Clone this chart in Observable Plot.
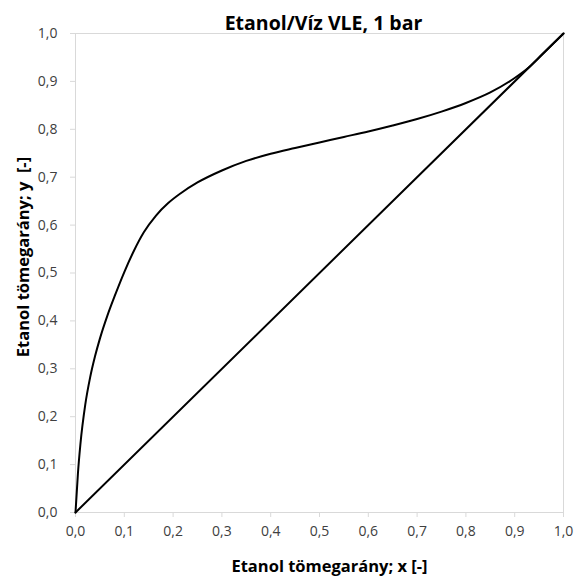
<!DOCTYPE html>
<html>
<head>
<meta charset="utf-8">
<script src="https://cdn.jsdelivr.net/npm/d3@7"></script>
<script src="https://cdn.jsdelivr.net/npm/@observablehq/plot@0.6"></script>
<style>
  html, body { margin: 0; padding: 0; background: #fff; }
</style>
</head>
<body>
<div id="chart"></div>
<script>
// Equilibrium curve (ethanol mass fraction, liquid x vs vapour y)
const xLiquid = [0, 0.005, 0.01, 0.02, 0.03, 0.04, 0.05, 0.065, 0.08, 0.1, 0.12, 0.14, 0.165, 0.19, 0.215, 0.25, 0.3, 0.35, 0.4, 0.45, 0.5, 0.55, 0.6, 0.65, 0.7, 0.75, 0.8, 0.85, 0.9, 0.93, 0.956, 1.0];
const yVapor  = [0, 0.082, 0.142, 0.225, 0.282, 0.326, 0.363, 0.410, 0.451, 0.502, 0.547, 0.585, 0.620, 0.646, 0.666, 0.689, 0.714, 0.734, 0.749, 0.761, 0.7725, 0.7840, 0.7955, 0.808, 0.8215, 0.837, 0.855, 0.877, 0.907, 0.930, 0.956, 1.0];
// Diagonal y = x
const diagX = [0, 1];
const diagY = [0, 1];
const tickValues = [0, 0.1, 0.2, 0.3, 0.4, 0.5, 0.6, 0.7, 0.8, 0.9, 1.0];

const titleText = "Etanol/Víz VLE, 1 bar";
const xLabelText = "Etanol tömegarány; x [-]";
const yLabelText = "Etanol tömegarány; y  [-]";

const curve = xLiquid.map((x, i) => ({x, y: yVapor[i]}));
const diag = diagX.map((x, i) => ({x, y: diagY[i]}));
const fmt = d => d.toFixed(1).replace(".", ",");
const font = "'Open Sans', Lato, sans-serif";

const chart = Plot.plot({
  width: 578,
  height: 577,
  marginLeft: 75,
  marginRight: 15,
  marginTop: 33,
  marginBottom: 65,
  style: {fontFamily: font, fontSize: "14px", background: "#fff"},
  x: {domain: [0, 1], label: null},
  y: {domain: [0, 1], label: null},
  marks: [
    Plot.frame({stroke: "#d9d9d9"}),
    Plot.axisX({ticks: tickValues, tickFormat: fmt, tickSize: 5, tickPadding: 9, stroke: "#d9d9d9", fill: "#404040", fontSize: 14, label: null}),
    Plot.axisY({ticks: tickValues, tickFormat: fmt, tickSize: 5, tickPadding: 13, stroke: "#d9d9d9", fill: "#404040", fontSize: 14, label: null}),
    Plot.line(diag, {x: "x", y: "y", stroke: "#000", strokeWidth: 2}),
    Plot.line(curve, {x: "x", y: "y", stroke: "#000", strokeWidth: 2, curve: "monotone-x"}),
    Plot.text([titleText], {frameAnchor: "top", dx: 4, dy: -10, lineAnchor: "middle", fontSize: 19.5, fontWeight: "bold", fill: "#000"}),
    Plot.text([xLabelText], {frameAnchor: "bottom", dx: 10, dy: 54, lineAnchor: "middle", textAnchor: "middle", fontSize: 16.5, fontWeight: "bold", fill: "#000"}),
    Plot.text([yLabelText], {frameAnchor: "left", dx: -52, dy: -16, lineAnchor: "middle", textAnchor: "middle", rotate: -90, fontSize: 16.5, fontWeight: "bold", fill: "#000"})
  ]
});
document.getElementById("chart").appendChild(chart);
</script>
</body>
</html>
